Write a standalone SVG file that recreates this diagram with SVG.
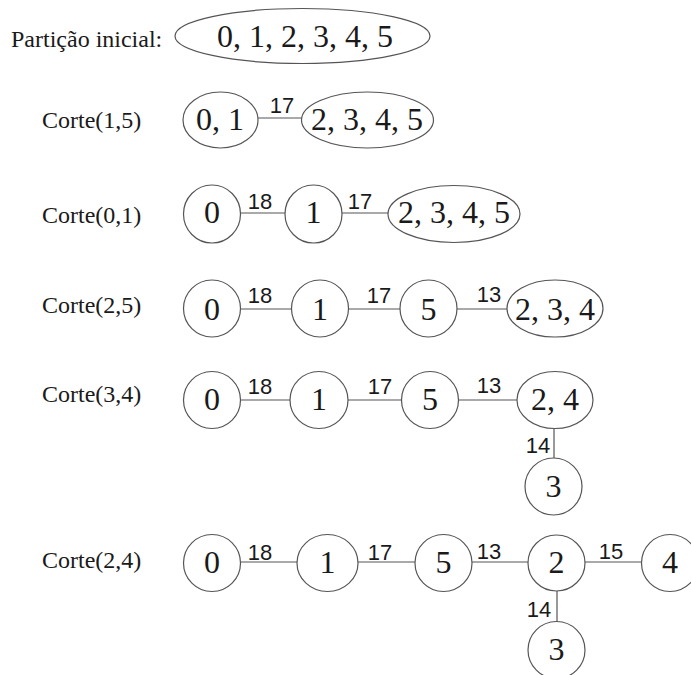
<svg xmlns="http://www.w3.org/2000/svg" width="691" height="675" viewBox="0 0 691 675">
<style>
.n{fill:#fff;stroke:#555;stroke-width:1.2}
.t{font-family:'Liberation Serif','DejaVu Serif',serif;font-size:32px;fill:#1a1a1a;text-anchor:middle}
.r{font-family:'Liberation Serif','DejaVu Serif',serif;font-size:24px;fill:#1a1a1a}
.l{font-family:'Liberation Sans','DejaVu Sans',sans-serif;font-size:22px;fill:#1a1a1a;text-anchor:middle}
.e{stroke:#555;stroke-width:1.2;fill:none}
</style>
<rect width="691" height="675" fill="#fff"/>
<g id="row-labels">
<text class="r" x="11" y="47">Partição inicial:</text>
<text class="r" x="42" y="128">Corte(1,5)</text>
<text class="r" x="42" y="223">Corte(0,1)</text>
<text class="r" x="42" y="313">Corte(2,5)</text>
<text class="r" x="42" y="402">Corte(3,4)</text>
<text class="r" x="42" y="568">Corte(2,4)</text>
</g>
<g id="connectors">
<line class="e" x1="258" y1="118" x2="302" y2="118"/>
<line class="e" x1="240" y1="213" x2="285" y2="213"/>
<line class="e" x1="342" y1="213" x2="388" y2="213"/>
<line class="e" x1="240" y1="309" x2="292" y2="309"/>
<line class="e" x1="348" y1="309" x2="400" y2="309"/>
<line class="e" x1="457" y1="309" x2="507" y2="309"/>
<line class="e" x1="240" y1="400" x2="290" y2="400"/>
<line class="e" x1="348" y1="400" x2="402" y2="400"/>
<line class="e" x1="458" y1="400" x2="517" y2="400"/>
<line class="e" x1="554" y1="428" x2="554" y2="458"/>
<line class="e" x1="240" y1="562" x2="297" y2="562"/>
<line class="e" x1="358" y1="562" x2="415" y2="562"/>
<line class="e" x1="472" y1="562" x2="528" y2="562"/>
<line class="e" x1="585" y1="562" x2="641" y2="562"/>
<line class="e" x1="557" y1="591" x2="557" y2="622"/>
</g>
<g id="edge-labels">
<text class="l" x="282" y="113">17</text>
<text class="l" x="260" y="209">18</text>
<text class="l" x="360" y="209">17</text>
<text class="l" x="260" y="303">18</text>
<text class="l" x="379" y="303">17</text>
<text class="l" x="489" y="302">13</text>
<text class="l" x="260" y="394">18</text>
<text class="l" x="380" y="394">17</text>
<text class="l" x="489" y="393">13</text>
<text class="l" x="538" y="453">14</text>
<text class="l" x="260" y="560">18</text>
<text class="l" x="380" y="560">17</text>
<text class="l" x="489" y="559">13</text>
<text class="l" x="611" y="559">15</text>
<text class="l" x="539" y="617">14</text>
</g>
<g id="r1-all"><ellipse class="n" cx="302.5" cy="36" rx="127.5" ry="27.5"/><text class="t" x="305" y="47">0, 1, 2, 3, 4, 5</text></g>
<g id="r2-01"><ellipse class="n" cx="220.5" cy="120" rx="37.5" ry="28"/><text class="t" x="220" y="130">0, 1</text></g>
<g id="r2-2345"><ellipse class="n" cx="367.5" cy="120" rx="66" ry="28"/><text class="t" x="367" y="130">2, 3, 4, 5</text></g>
<g id="r3-0"><ellipse class="n" cx="212" cy="214" rx="28.5" ry="29"/><text class="t" x="212" y="223">0</text></g>
<g id="r3-1"><ellipse class="n" cx="313.5" cy="214" rx="28.5" ry="29"/><text class="t" x="313.5" y="223">1</text></g>
<g id="r3-2345"><ellipse class="n" cx="454" cy="214" rx="66" ry="28.5"/><text class="t" x="454" y="223">2, 3, 4, 5</text></g>
<g id="r4-0"><ellipse class="n" cx="212" cy="308.5" rx="28.5" ry="28.5"/><text class="t" x="212" y="320">0</text></g>
<g id="r4-1"><ellipse class="n" cx="320" cy="308.5" rx="28.5" ry="28.5"/><text class="t" x="320" y="320">1</text></g>
<g id="r4-5"><ellipse class="n" cx="428.5" cy="308.5" rx="28.5" ry="28.5"/><text class="t" x="428.5" y="320">5</text></g>
<g id="r4-234"><ellipse class="n" cx="555" cy="308.5" rx="48" ry="28.5"/><text class="t" x="555" y="320">2, 3, 4</text></g>
<g id="r5-0"><ellipse class="n" cx="212" cy="400" rx="28.5" ry="28.5"/><text class="t" x="212" y="410">0</text></g>
<g id="r5-1"><ellipse class="n" cx="319" cy="400" rx="29" ry="28.5"/><text class="t" x="319" y="410">1</text></g>
<g id="r5-5"><ellipse class="n" cx="430" cy="400" rx="28.5" ry="28.5"/><text class="t" x="430" y="410">5</text></g>
<g id="r5-24"><ellipse class="n" cx="555" cy="400" rx="38" ry="28.5"/><text class="t" x="555" y="410">2, 4</text></g>
<g id="r5-3"><ellipse class="n" cx="553.5" cy="486.5" rx="28.5" ry="28.5"/><text class="t" x="553.5" y="497">3</text></g>
<g id="r6-0"><ellipse class="n" cx="212" cy="563" rx="28.5" ry="28.5"/><text class="t" x="212" y="573">0</text></g>
<g id="r6-1"><ellipse class="n" cx="327.5" cy="563" rx="30.5" ry="28.5"/><text class="t" x="327.5" y="573">1</text></g>
<g id="r6-5"><ellipse class="n" cx="443.5" cy="563" rx="28.5" ry="28.5"/><text class="t" x="443.5" y="573">5</text></g>
<g id="r6-2"><ellipse class="n" cx="556.5" cy="563" rx="28.5" ry="28"/><text class="t" x="556.5" y="573">2</text></g>
<g id="r6-4"><ellipse class="n" cx="670" cy="563" rx="28.5" ry="28.5"/><text class="t" x="670" y="573">4</text></g>
<g id="r6-3"><ellipse class="n" cx="556.5" cy="650" rx="28.5" ry="28.5"/><text class="t" x="556.5" y="660">3</text></g>
</svg>
